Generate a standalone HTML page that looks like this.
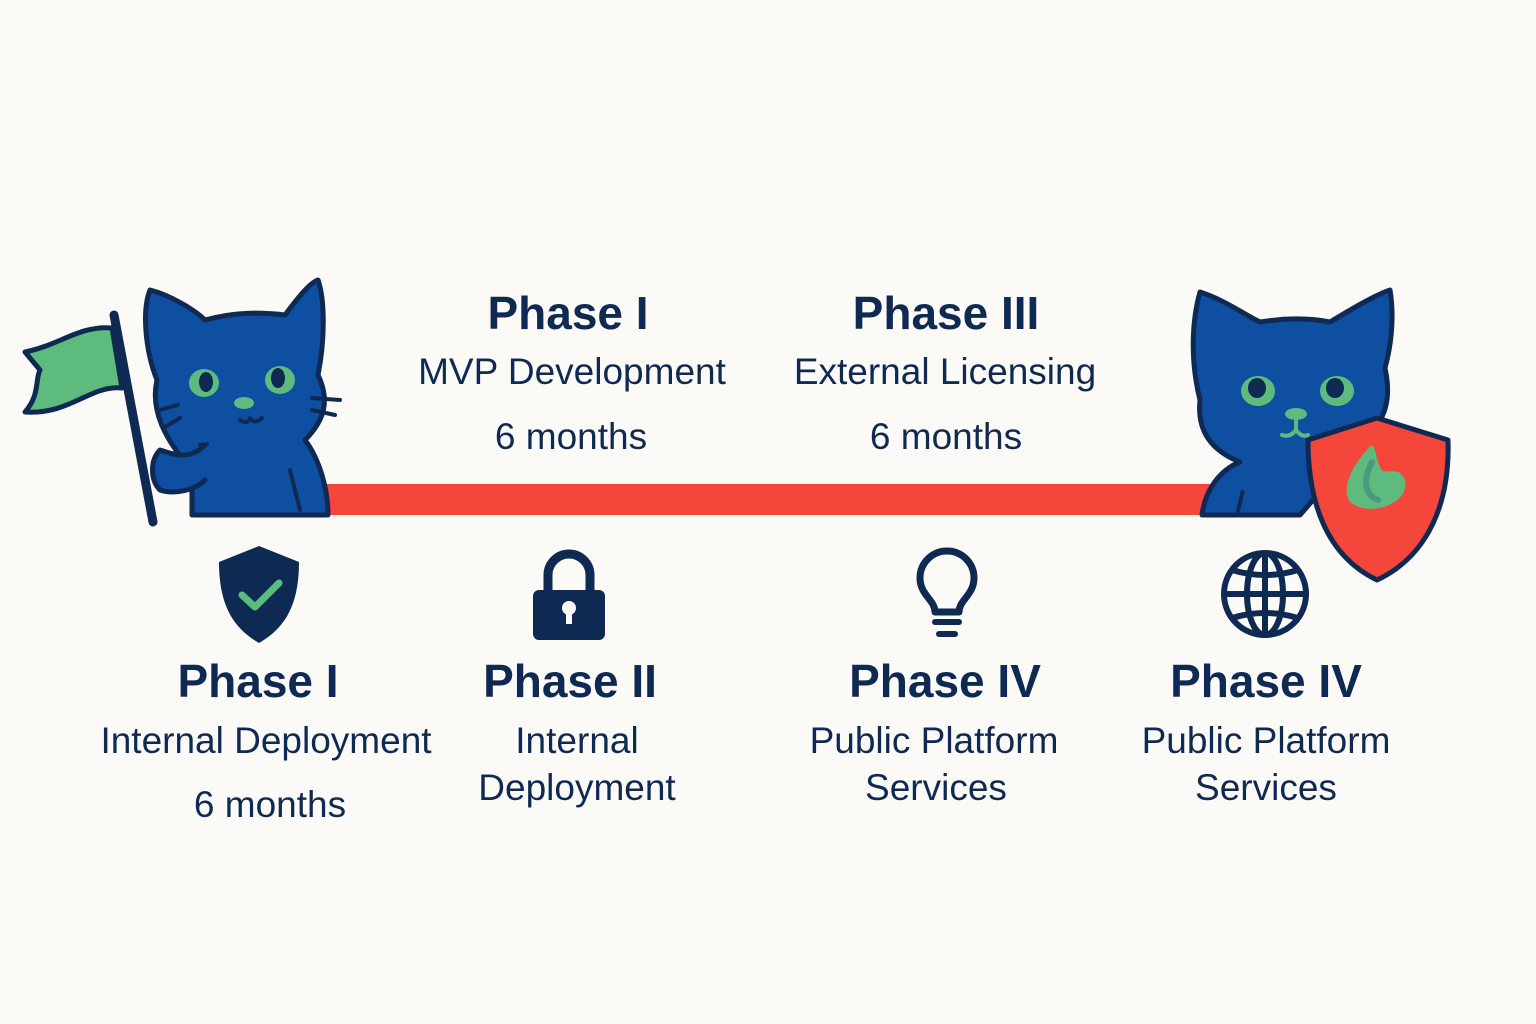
<!DOCTYPE html>
<html><head><style>
body{margin:0;background:#fcfaf7;}
svg{display:block}
text{font-family:"Liberation Sans",sans-serif;fill:#0f2a52;text-anchor:middle}
.h{font-weight:bold;font-size:46px}
.s{font-size:37px}
</style></head><body>
<svg width="1536" height="1024" viewBox="0 0 1536 1024">
<rect width="1536" height="1024" fill="#fcfaf7"/>
<rect x="300" y="484" width="930" height="31" fill="#f4463a"/>
<!-- left cat -->
<g stroke="#0e2a52" stroke-width="5" stroke-linejoin="round" stroke-linecap="round">
<path d="M192,515 L192,470 C165,440 150,410 157,380 C145,350 142,310 150,290 C170,295 195,310 205,320 C235,312 260,312 285,315 C300,295 310,283 318,280 C325,300 325,340 318,375 C330,400 325,420 305,440 C320,460 328,490 328,515 Z" fill="#0e4fa2"/>
<path d="M25,352 C60,345 80,325 112,328 L122,388 C90,385 70,415 25,412 C40,395 35,380 40,370 Z" fill="#5dbb7e"/>
<line x1="114" y1="315" x2="153" y2="522" stroke-width="9"/>
<path d="M205,445 C190,460 175,455 160,450 C150,460 150,480 160,490 C175,495 195,490 205,480" fill="#0e4fa2"/>
<path d="M160,410 L178,405 M163,428 L180,418 M312,398 L340,400 M312,410 L335,415 M240,420 Q248,425 250,418 Q255,425 262,418 M200,445 L207,444 M290,470 L300,510" fill="none" stroke-width="4"/>
</g>
<ellipse cx="204" cy="383" rx="15" ry="14" fill="#5dbb7e"/><ellipse cx="206" cy="382" rx="7" ry="10" fill="#0e2a52"/>
<ellipse cx="280" cy="380" rx="15" ry="14" fill="#5dbb7e"/><ellipse cx="278" cy="378" rx="7" ry="10" fill="#0e2a52"/>
<ellipse cx="244" cy="403" rx="10" ry="6" fill="#5dbb7e"/>
<!-- right cat -->
<g stroke="#0e2a52" stroke-width="5" stroke-linejoin="round">
<path d="M1202,515 C1205,490 1220,470 1240,462 C1210,450 1197,430 1200,400 C1190,360 1192,320 1200,292 C1225,300 1245,315 1260,322 C1285,318 1310,318 1330,322 C1350,310 1375,295 1390,290 C1395,320 1390,350 1385,368 C1392,400 1385,420 1365,440 L1300,515 Z" fill="#0e4fa2"/>
<path d="M1308,440 L1377,418 L1448,440 C1450,500 1430,555 1377,580 C1325,555 1308,500 1308,440 Z" fill="#f4463a"/>
<path d="M1243,490 L1237,515" fill="none" stroke-width="4"/>
</g>
<ellipse cx="1258" cy="391" rx="17" ry="15" fill="#5dbb7e"/><ellipse cx="1257" cy="388" rx="9" ry="10" fill="#0e2a52"/>
<ellipse cx="1337" cy="391" rx="17" ry="15" fill="#5dbb7e"/><ellipse cx="1335" cy="388" rx="9" ry="10" fill="#0e2a52"/>
<ellipse cx="1296" cy="414" rx="11" ry="6" fill="#5dbb7e"/>
<path d="M1296,418 L1296,430 Q1290,438 1282,435 M1296,430 Q1302,438 1308,435" fill="none" stroke="#5dbb7e" stroke-width="4" stroke-linecap="round"/>
<path d="M1372,445 C1345,470 1340,500 1355,505 C1370,515 1410,505 1405,480 C1400,465 1385,475 1382,470 C1375,460 1378,452 1372,445 Z" fill="#5dbb7e"/>
<path d="M1372,462 C1362,480 1365,495 1378,500" fill="none" stroke="#4a9a80" stroke-width="6" stroke-linecap="round"/>
<!-- top labels -->
<text x="568" y="329" class="h">Phase I</text>
<text x="572" y="384" class="s">MVP Development</text>
<text x="571" y="449" class="s">6 months</text>
<text x="946" y="329" class="h">Phase III</text>
<text x="945" y="384" class="s">External Licensing</text>
<text x="946" y="449" class="s">6 months</text>
<!-- icons -->
<path d="M259,546 L299,562 C299,605 285,628 259,643 C233,628 219,605 219,562 Z" fill="#0e2a52"/>
<path d="M242,595 L255,607 L279,583" fill="none" stroke="#5dbb7e" stroke-width="7" stroke-linecap="round" stroke-linejoin="round"/>
<path d="M548,592 L548,575 A21,21 0 0 1 590,575 L590,592" fill="none" stroke="#0e2a52" stroke-width="9"/>
<rect x="533" y="590" width="72" height="50" rx="6" fill="#0e2a52"/>
<circle cx="569" cy="608" r="7" fill="#fcfaf7"/><rect x="566" y="608" width="6" height="16" fill="#fcfaf7"/>
<path d="M935,612 C935,600 920,595 920,578 A27,27 0 1 1 974,578 C974,595 959,600 959,612 Z" fill="none" stroke="#0e2a52" stroke-width="7" stroke-linejoin="round"/>
<line x1="935" y1="622" x2="959" y2="622" stroke="#0e2a52" stroke-width="6" stroke-linecap="round"/>
<line x1="939" y1="634" x2="955" y2="634" stroke="#0e2a52" stroke-width="6" stroke-linecap="round"/>
<g fill="none" stroke="#0e2a52" stroke-width="6">
<circle cx="1265" cy="594" r="41"/><ellipse cx="1265" cy="594" rx="18" ry="41"/>
<line x1="1265" y1="553" x2="1265" y2="635"/><line x1="1224" y1="594" x2="1306" y2="594"/>
<path d="M1232,570 Q1265,580 1298,570 M1232,618 Q1265,608 1298,618"/>
</g>
<!-- bottom labels -->
<text x="258" y="697" class="h">Phase I</text>
<text x="266" y="753" class="s">Internal Deployment</text>
<text x="270" y="817" class="s">6 months</text>
<text x="570" y="697" class="h">Phase II</text>
<text x="577" y="753" class="s">Internal</text>
<text x="577" y="800" class="s">Deployment</text>
<text x="945" y="697" class="h">Phase IV</text>
<text x="934" y="753" class="s">Public Platform</text>
<text x="936" y="800" class="s">Services</text>
<text x="1266" y="697" class="h">Phase IV</text>
<text x="1266" y="753" class="s">Public Platform</text>
<text x="1266" y="800" class="s">Services</text>
</svg>
</body></html>
